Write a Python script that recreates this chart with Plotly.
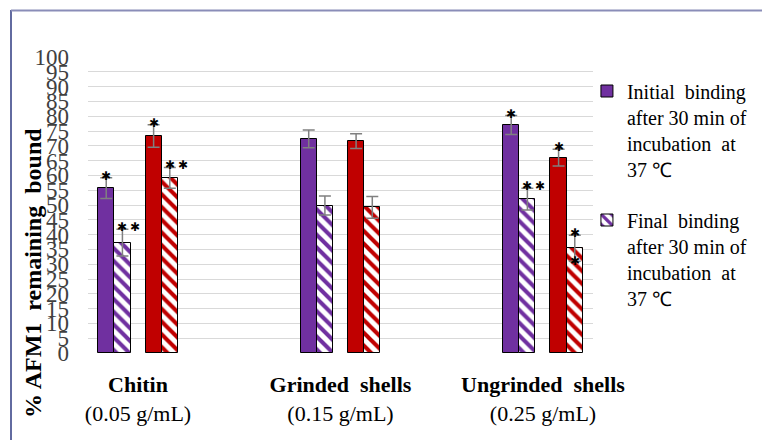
import plotly.graph_objects as go

categories = ["Chitin", "Grinded  shells", "Ungrinded  shells"]
concentrations = ["(0.05 g/mL)", "(0.15 g/mL)", "(0.25 g/mL)"]

initial_purple = [55.7, 72.3, 77.0]
initial_purple_err = [3.5, 3.0, 3.2]
final_purple = [37.3, 49.8, 52.0]
final_purple_err = [4.5, 3.2, 3.7]
initial_red = [73.3, 71.6, 66.0]
initial_red_err = [3.8, 2.5, 2.8]
final_red = [59.2, 49.2, 35.4]
final_red_err = [3.5, 3.7, 4.4]

stars_initial_purple = ["*", "", "*"]
stars_final_purple = ["**", "", "**"]
stars_initial_red = ["*", "", "*"]
stars_final_red = ["**", "", "*"]
stars_final_red_low = ["", "", "*"]

legend_initial = "Initial  binding<br>after 30 min of<br>incubation  at<br>37 ℃"
legend_final = "Final  binding<br>after 30 min of<br>incubation  at<br>37 ℃"

PURPLE = "#7030A0"
RED = "#C00000"
SERIF = "Liberation Serif"
W = 0.08
offsets = [-0.157, -0.077, 0.077, 0.157]
xs = list(range(len(categories)))


def keep_spaces(s):
    return s.replace("  ", "&nbsp; ")


fig = go.Figure()


def add_bar(vals, errs, off, color, hatched, name, show, group):
    marker = dict(color=color if not hatched else "white",
                  line=dict(color="black", width=1))
    if hatched:
        marker["pattern"] = dict(shape="\\", fgcolor=color, bgcolor="white",
                                 size=9, solidity=0.45, fillmode="replace")
    fig.add_trace(go.Bar(
        x=[x + off for x in xs], y=vals, width=W, name=keep_spaces(name),
        showlegend=show, legendgroup=group, marker=marker,
        error_y=dict(type="data", array=errs, color="#808080",
                     thickness=1.5, width=6),
    ))


add_bar(initial_purple, initial_purple_err, offsets[0], PURPLE, False, legend_initial, True, "a")
add_bar(final_purple, final_purple_err, offsets[1], PURPLE, True, legend_final, True, "b")
add_bar(initial_red, initial_red_err, offsets[2], RED, False, "init red", False, "c")
add_bar(final_red, final_red_err, offsets[3], RED, True, "final red", False, "d")

annotations = []


def add_stars(vals, errs, off, stars, low=False):
    for i, s in enumerate(stars):
        if not s:
            continue
        y = vals[i] - errs[i] if low else vals[i] + errs[i]
        for k in range(len(s)):
            annotations.append(dict(
                x=xs[i] + off, y=y, xref="x", yref="y", text="✱",
                showarrow=False, xanchor="center", yanchor="middle",
                xshift=13 * k, yshift=2 if not low else 0,
                font=dict(family="DejaVu Sans", size=12, color="black")))


add_stars(initial_purple, initial_purple_err, offsets[0], stars_initial_purple)
add_stars(final_purple, final_purple_err, offsets[1], stars_final_purple)
add_stars(initial_red, initial_red_err, offsets[2], stars_initial_red)
add_stars(final_red, final_red_err, offsets[3], stars_final_red)
add_stars(final_red, final_red_err, offsets[3], stars_final_red_low, low=True)

annotations.append(dict(
    x=-0.109, y=0.27, xref="paper", yref="paper",
    text="<b>% AFM1&nbsp; remaining&nbsp; bound</b>",
    textangle=-90, showarrow=False, xanchor="center", yanchor="middle",
    font=dict(family=SERIF, size=24, color="black")))

ticktext = [f"<b>{keep_spaces(c)}</b><br>{p}" for c, p in zip(categories, concentrations)]

# page pixel -> paper coords (page has an 8px body margin)
def px2x(px):
    return (px - 88) / 505


def px2y(py):
    return (353 - py) / 296


shapes = [
    dict(type="line", xref="paper", yref="paper", x0=px2x(11), x1=px2x(11),
         y0=px2y(10), y1=px2y(445), line=dict(color="#2E3A80", width=1.5)),
    dict(type="line", xref="paper", yref="paper", x0=px2x(11), x1=px2x(775),
         y0=px2y(10.5), y1=px2y(10.5), line=dict(color="#8A8DB8", width=2)),
    dict(type="line", xref="paper", yref="paper", x0=px2x(768), x1=px2x(768),
         y0=px2y(11), y1=px2y(445), line=dict(color="#BFBFBF", width=1.5)),
    dict(type="line", xref="paper", yref="paper", x0=px2x(764), x1=px2x(775),
         y0=px2y(322), y1=px2y(322), line=dict(color="#2E3A80", width=1.5)),
]

fig.update_layout(
    width=762, height=432,
    margin=dict(l=80, r=177, t=49, b=87, autoexpand=False),
    paper_bgcolor="white", plot_bgcolor="white",
    barmode="overlay", bargap=0,
    font=dict(family=SERIF, color="black"),
    xaxis=dict(range=[-0.247, 2.247], tickvals=xs, ticktext=ticktext,
               showgrid=False, zeroline=False, showline=False, ticks="",
               ticklabelstandoff=16, automargin=False,
               tickfont=dict(family=SERIF, size=22, color="black")),
    yaxis=dict(range=[0, 100], tick0=0, dtick=5, showgrid=True,
               gridcolor="#D9D9D9", gridwidth=1, zeroline=False,
               showline=False, ticks="", ticklabelstandoff=18, automargin=False,
               tickfont=dict(family=SERIF, size=23, color="#404040")),
    legend=dict(x=0.988, y=0.951, xanchor="left", yanchor="top",
                valign="top", tracegroupgap=22, traceorder="grouped",
                font=dict(family=SERIF, size=20, color="black"),
                bgcolor="rgba(0,0,0,0)"),
    annotations=annotations,
    shapes=shapes,
)

fig.write_html("out.html")
